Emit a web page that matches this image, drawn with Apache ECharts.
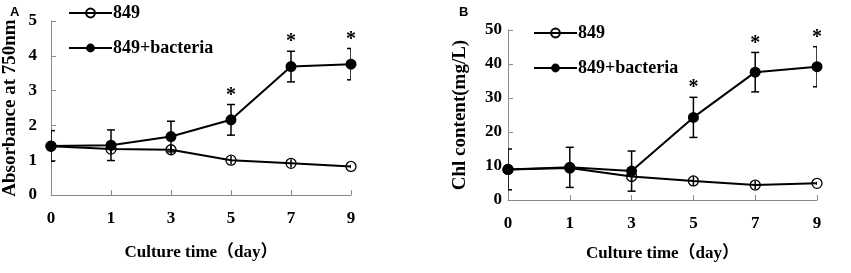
<!DOCTYPE html>
<html>
<head>
<meta charset="utf-8">
<script src="https://cdn.jsdelivr.net/npm/echarts@6/dist/echarts.min.js"></script>
<style>
  html, body { margin: 0; padding: 0; background: #fff; }
  #chart { width: 851px; height: 273px; }
</style>
</head>
<body>
<div id="chart"></div>
<script>
// culture time (day)
const days = ['0', '1', '3', '5', '7', '9'];

// panel A: absorbance at 750nm
const absCtrl = [1.40, 1.32, 1.30, 1.00, 0.91, 0.82];
const absCtrlErr = [0.05, 0.12, 0.12, 0.12, 0.12, 0.05];
const absBact = [1.41, 1.43, 1.68, 2.16, 3.69, 3.76];
const absBactErr = [0.44, 0.44, 0.44, 0.44, 0.44, 0.45];

// panel B: Chl content (mg/L)
const chlCtrl = [9.0, 9.4, 6.9, 5.6, 4.4, 4.9];
const chlCtrlErr = [0.5, 0.5, 1.5, 1.5, 1.2, 0.5];
const chlBact = [9.0, 9.6, 8.5, 24.3, 37.6, 39.2];
const chlBactErr = [6.0, 5.9, 5.9, 5.9, 5.8, 5.9];

// significance marks (*)
const sig = [0, 0, 0, 1, 1, 1];

const SERIF = "'Liberation Serif', 'Times New Roman', serif";
const AXIS_GREY = '#8a8a8a';

function pack(vals, errs) {
  return vals.map((v, i) => [i, v, errs[i], sig[i]]);
}

function errorBars(capW) {
  return function (params, api) {
    const x = api.value(0);
    const y = api.value(1);
    const e = api.value(2);
    const hi = api.coord([x, y + e]);
    const lo = api.coord([x, y - e]);
    const style = { stroke: '#000', lineWidth: 1.5 };
    const children = [
      { type: 'line', shape: { x1: hi[0], y1: hi[1], x2: lo[0], y2: lo[1] }, style: style }
    ];
    if (capW) {
      children.push({ type: 'line', shape: { x1: hi[0] - capW, y1: hi[1], x2: hi[0] + capW, y2: hi[1] }, style: style });
      children.push({ type: 'line', shape: { x1: lo[0] - capW, y1: lo[1], x2: lo[0] + capW, y2: lo[1] }, style: style });
    }
    return { type: 'group', children: children };
  };
}

function stars(params, api) {
  if (!api.value(3)) return null;
  const p = api.coord([api.value(0), api.value(1) + api.value(2)]);
  return {
    type: 'text',
    x: p[0],
    y: p[1] + 1,
    style: {
      text: '*',
      fill: '#000',
      font: 'bold 20px ' + SERIF,
      align: 'center',
      verticalAlign: 'bottom'
    }
  };
}

function xAxis(gridIndex, nameGap) {
  return {
    type: 'category',
    gridIndex: gridIndex,
    data: days,
    boundaryGap: false,
    name: 'Culture time（day）',
    nameLocation: 'middle',
    nameGap: nameGap,
    nameTextStyle: { fontFamily: SERIF + ", 'Noto Sans CJK SC'", fontWeight: 'bold', fontSize: 17, color: '#000' },
    axisLine: { lineStyle: { color: AXIS_GREY, width: 1 } },
    axisTick: { inside: true, length: 5, alignWithLabel: true, lineStyle: { color: AXIS_GREY } },
    axisLabel: { margin: 15, fontFamily: SERIF, fontWeight: 'bold', fontSize: 17, color: '#000' },
    splitLine: { show: false }
  };
}

function yAxis(gridIndex, name, max, interval, nameGap, labelMargin) {
  return {
    type: 'value',
    gridIndex: gridIndex,
    min: 0,
    max: max,
    interval: interval,
    name: name,
    nameLocation: 'middle',
    nameGap: nameGap,
    nameTextStyle: { fontFamily: SERIF, fontWeight: 'bold', fontSize: 19, color: '#000' },
    axisLine: { show: true, lineStyle: { color: AXIS_GREY, width: 1 } },
    axisTick: { show: true, inside: true, length: 5, lineStyle: { color: AXIS_GREY } },
    axisLabel: { margin: labelMargin, fontFamily: SERIF, fontWeight: 'bold', fontSize: 17, color: '#000' },
    splitLine: { show: false }
  };
}

function lineSeries(name, idx, vals, open) {
  return {
    name: name,
    type: 'line',
    xAxisIndex: idx,
    yAxisIndex: idx,
    data: vals,
    symbol: 'circle',
    symbolSize: open ? 10 : 11,
    showAllSymbol: true,
    lineStyle: { color: '#000', width: 2 },
    itemStyle: open
      ? { color: 'rgba(255,255,255,0)', borderColor: '#000', borderWidth: 1.3 }
      : { color: '#000', borderColor: '#000', borderWidth: 0 },
    z: open ? 2 : 3
  };
}

function errSeries(idx, vals, errs, capW, z) {
  return {
    name: 'err',
    type: 'custom',
    xAxisIndex: idx,
    yAxisIndex: idx,
    clip: true,
    renderItem: errorBars(capW),
    encode: { x: 0, y: 1 },
    data: pack(vals, errs),
    z: z,
    silent: true
  };
}

function starSeries(idx, vals, errs) {
  return {
    name: 'sig',
    type: 'custom',
    xAxisIndex: idx,
    yAxisIndex: idx,
    renderItem: stars,
    encode: { x: 0, y: 1 },
    data: pack(vals, errs),
    z: 5,
    silent: true
  };
}

function legend(left, top) {
  return {
    data: ['849', '849+bacteria'],
    orient: 'vertical',
    left: left,
    top: top,
    itemWidth: 43,
    itemHeight: 11,
    itemGap: 17,
    textStyle: { fontFamily: SERIF, fontWeight: 'bold', fontSize: 18, color: '#000', padding: [0, 0, 0, -4] }
  };
}

const chart = echarts.init(document.getElementById('chart'), null, { renderer: 'canvas' });

chart.setOption({
  animation: false,
  backgroundColor: '#fff',
  title: [
    { text: 'A', left: 5, top: 1, textStyle: { fontFamily: "'Liberation Sans', Arial, sans-serif", fontWeight: 'bold', fontSize: 13, color: '#000' } },
    { text: 'B', left: 454, top: 1, textStyle: { fontFamily: "'Liberation Sans', Arial, sans-serif", fontWeight: 'bold', fontSize: 13, color: '#000' } }
  ],
  legend: [legend(63, -1), legend(528, 19)],
  grid: [
    { left: 50, top: 21, width: 301, height: 174 },
    { left: 508, top: 30, width: 309, height: 170 }
  ],
  xAxis: [xAxis(0, 49), xAxis(1, 45)],
  yAxis: [
    yAxis(0, 'Absorbance at 750nm', 5, 1, 31, 14),
    yAxis(1, 'Chl content(mg/L)', 50, 10, 38, 6)
  ],
  series: [
    lineSeries('849', 0, absCtrl, true),
    errSeries(0, absCtrl, absCtrlErr, 0, 4),
    errSeries(0, absBact, absBactErr, 4, 1),
    lineSeries('849+bacteria', 0, absBact, false),
    starSeries(0, absBact, absBactErr),

    lineSeries('849', 1, chlCtrl, true),
    errSeries(1, chlCtrl, chlCtrlErr, 0, 4),
    errSeries(1, chlBact, chlBactErr, 4, 1),
    lineSeries('849+bacteria', 1, chlBact, false),
    starSeries(1, chlBact, chlBactErr)
  ]
});
</script>
</body>
</html>
